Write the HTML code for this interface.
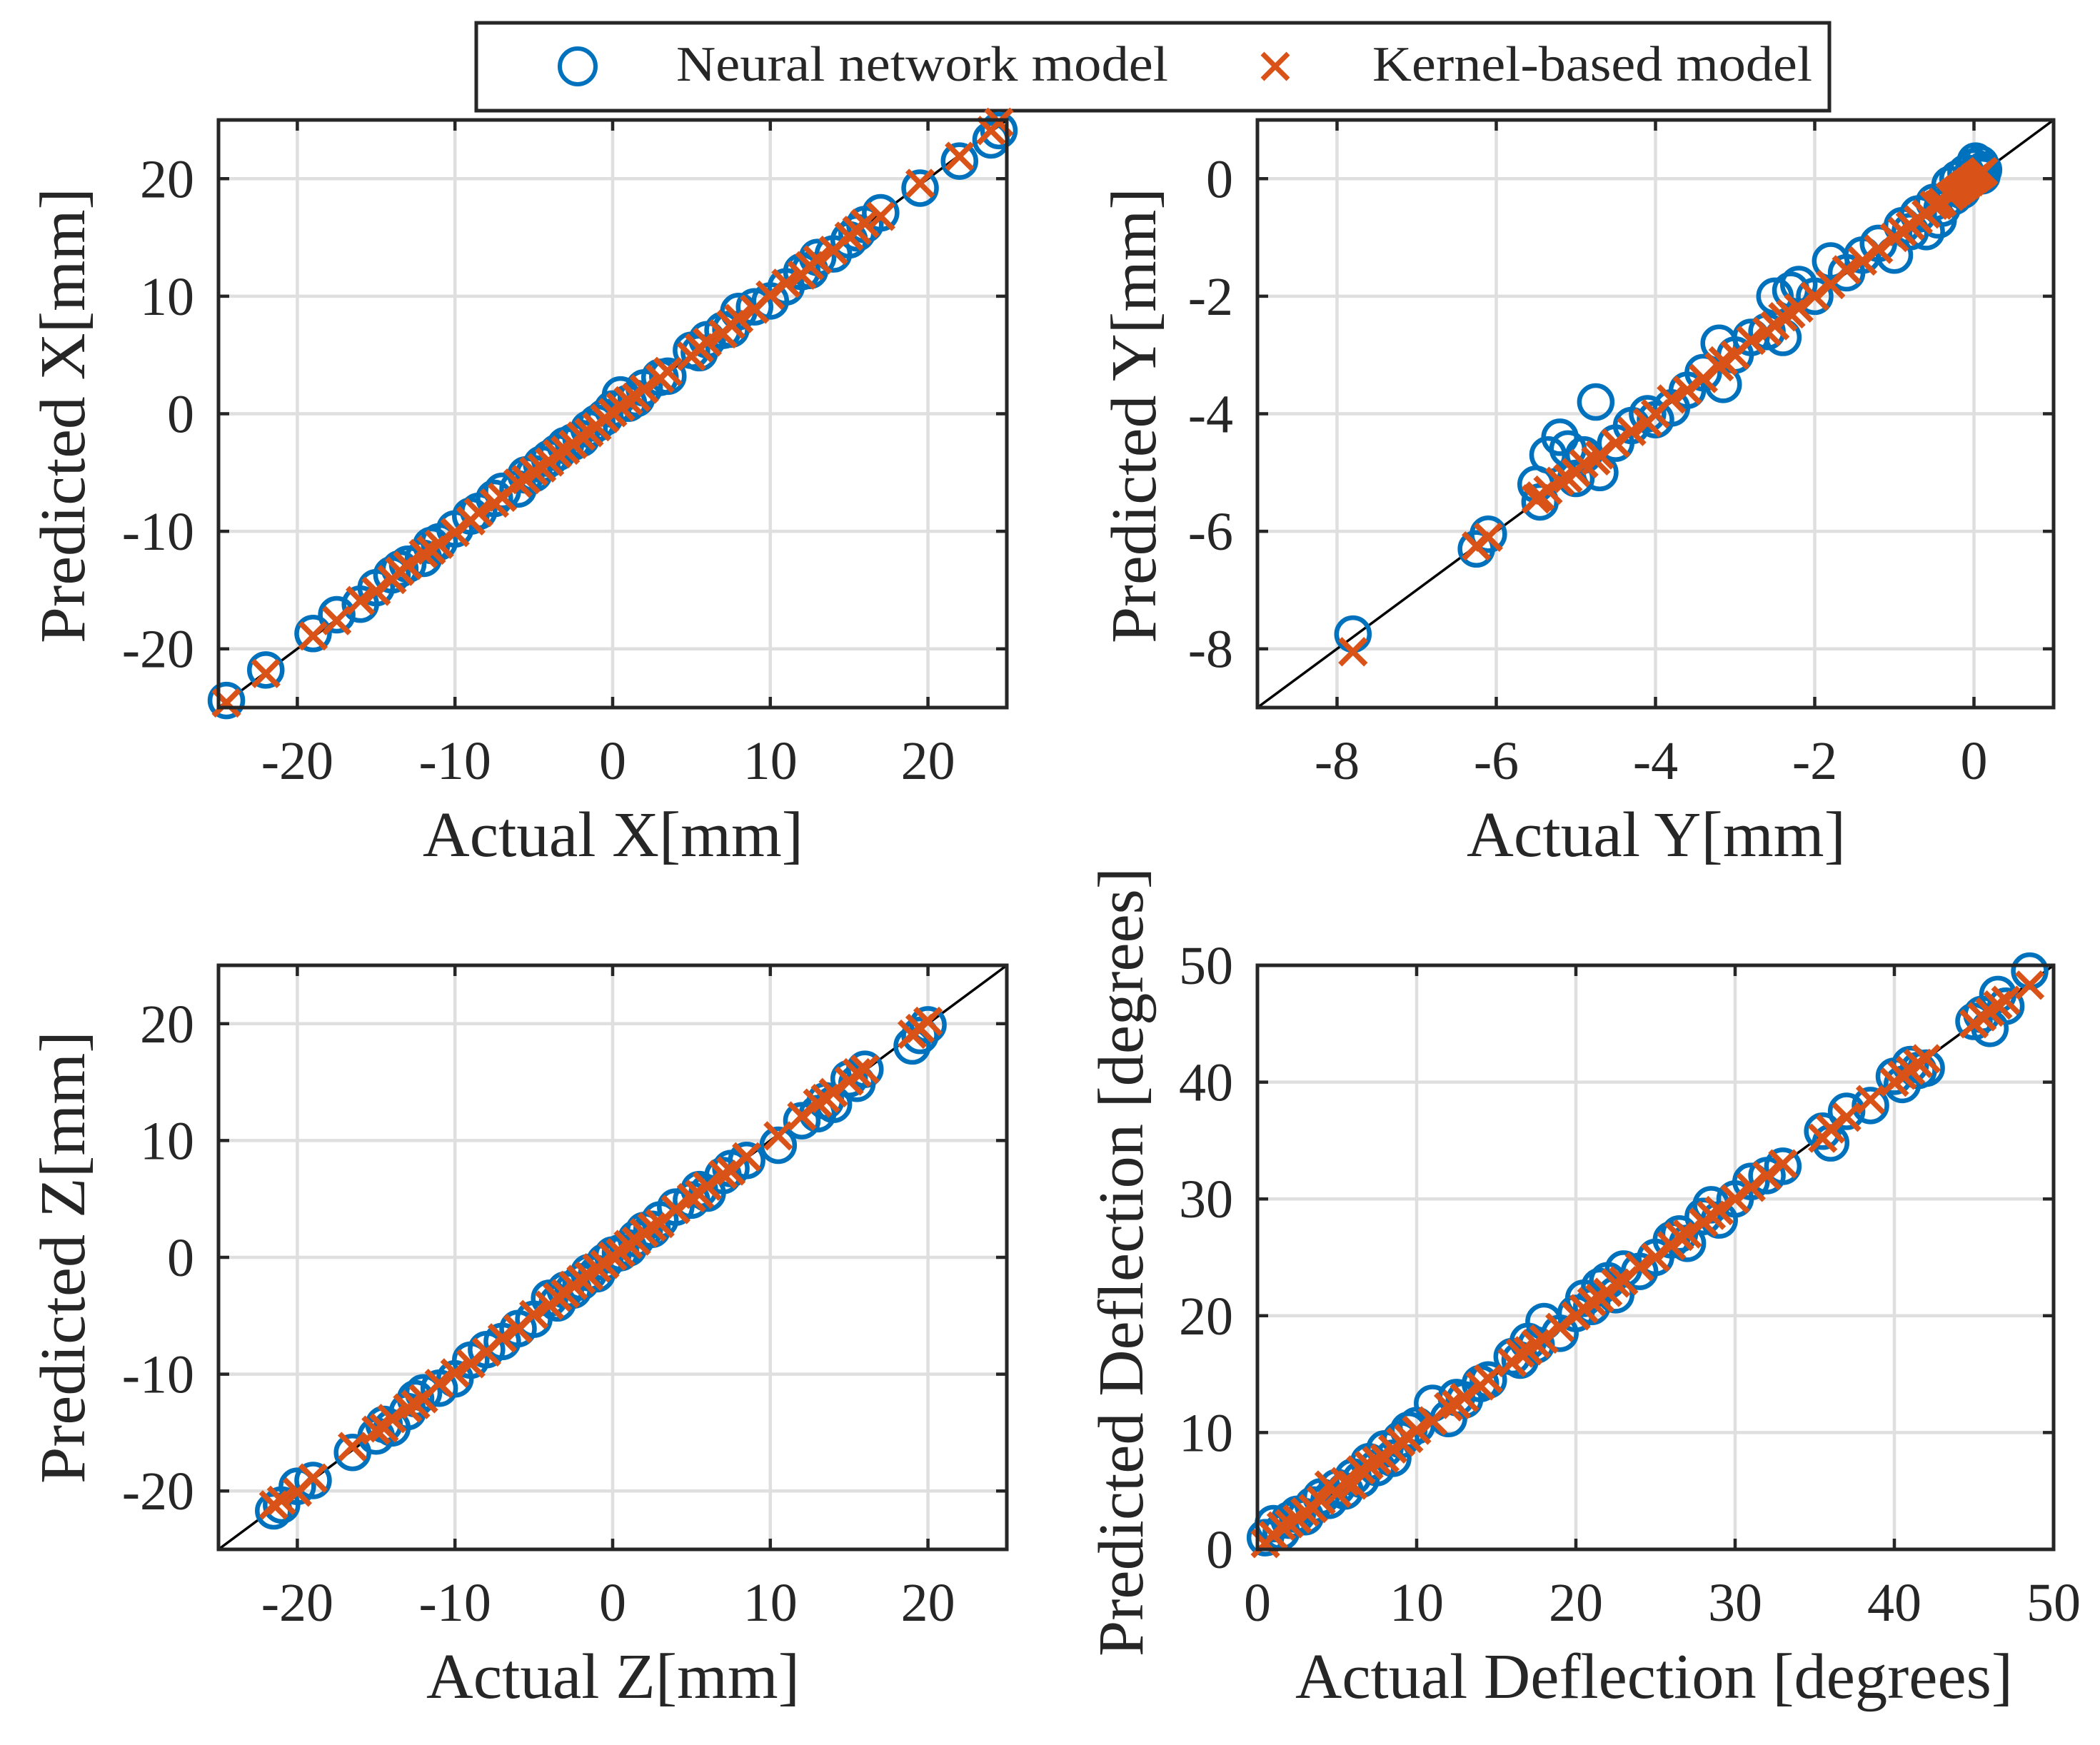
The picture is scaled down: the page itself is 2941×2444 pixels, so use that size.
<!DOCTYPE html>
<html><head><meta charset="utf-8"><style>
html,body{margin:0;padding:0;background:#fff}
svg{display:block}
text{font-family:"Liberation Serif",serif;fill:#262626}
</style></head><body>
<svg id="fig" width="2941" height="2444" viewBox="0 0 2941 2444" xmlns="http://www.w3.org/2000/svg">
<rect width="2941" height="2444" fill="#fff"/>
<g>
<rect x="667" y="32" width="1895" height="123" fill="#fff" stroke="#262626" stroke-width="5"/>
<circle cx="809" cy="93" r="25" fill="none" stroke="#0072BD" stroke-width="6"/>
<text x="947" y="113" font-size="70" textLength="689" lengthAdjust="spacingAndGlyphs">Neural network model</text>
<path d="M1768 75 L1804 111 M1804 75 L1768 111" stroke="#D95319" stroke-width="7"/>
<text x="1922" y="113" font-size="70" textLength="616" lengthAdjust="spacingAndGlyphs">Kernel-based model</text>
</g>
</svg>
<script>
// Panel X
const xActual=[-24.5,-22,-19,-17.5,-16,-15,-14,-13.5,-13,-12,-11.5,-11,-10,-9,-8.5,-7.5,-7,-6,-5.5,-5,-4.5,-4,-3.5,-3,-2.5,-2,-1.5,-1,-0.5,0,0.5,1,1.5,2,3,3.5,5,5.5,6,7,7.5,8,9,10,11,12,12.5,13,14,15,15.5,16,17,19.5,22,24,24.5];
const xNN=[-24.4,-21.8,-18.7,-17.1,-16.2,-14.8,-13.7,-13.2,-12.8,-12.3,-11.2,-10.9,-9.8,-8.7,-8.3,-7.2,-6.6,-6.4,-5.2,-5.1,-4.3,-3.8,-3.3,-2.7,-2.4,-2.1,-1.3,-0.8,-0.3,0.4,1.6,0.9,1.3,2.2,3.1,3.2,5.4,5.2,6.3,7.1,7.2,8.7,9.1,9.6,10.8,12.1,12.2,13.3,13.6,14.8,15.4,16.1,17.1,19.2,21.5,23.3,24.1];
const xKB=[-24.6,-22.1,-18.9,-17.6,-15.9,-15.1,-14.1,-13.4,-12.9,-11.9,-11.6,-11.1,-10.1,-9.1,-8.4,-7.6,-7.1,-5.9,-5.6,-4.9,-4.6,-4.1,-3.4,-3.1,-2.6,-1.9,-1.6,-1.1,-0.4,0.1,0.6,1.1,1.4,2.1,3.0,3.6,4.9,5.6,6.1,6.8,7.6,8.1,8.9,10.1,11.1,11.8,12.6,13.1,13.9,15.1,15.6,16.2,16.8,19.6,21.9,24.1,24.8];
// Panel Y
const yActual=[-7.8,-6.25,-6.1,-5.5,-5.45,-5.35,-5.2,-5.1,-5.0,-4.9,-4.75,-4.7,-4.5,-4.3,-4.1,-4.0,-3.8,-3.6,-3.4,-3.2,-3.15,-3.0,-2.8,-2.6,-2.5,-2.4,-2.3,-2.2,-2.0,-1.8,-1.6,-1.4,-1.2,-1.0,-0.9,-0.8,-0.7,-0.6,-0.5,-0.45,-0.4,-0.3,-0.25,-0.2,-0.15,-0.1,-0.05,0,0.02,0.05,0.08,0.1,0.12];
const yNN=[-7.75,-6.3,-6.05,-5.2,-5.5,-4.7,-4.4,-4.6,-5.1,-4.7,-3.8,-5.0,-4.5,-4.2,-4.0,-4.1,-3.9,-3.6,-3.3,-2.8,-3.5,-3.0,-2.7,-2.6,-2.0,-2.7,-1.9,-1.8,-2.0,-1.4,-1.6,-1.3,-1.1,-1.3,-0.8,-0.9,-0.6,-0.9,-0.4,-0.7,-0.5,-0.1,-0.3,0.0,-0.2,0.1,0.0,0.2,0.3,0.1,0.25,0.05,0.15];
const yKB=[-8.05,-6.25,-6.1,-5.45,-5.4,-5.3,-5.15,-5.1,-5.0,-4.85,-4.8,-4.7,-4.5,-4.3,-4.15,-4.0,-3.75,-3.6,-3.4,-3.2,-3.1,-3.0,-2.75,-2.6,-2.5,-2.35,-2.3,-2.2,-2.0,-1.8,-1.55,-1.4,-1.2,-1.0,-0.9,-0.8,-0.7,-0.6,-0.45,-0.45,-0.4,-0.3,-0.25,-0.2,-0.15,-0.1,-0.05,0,0.02,0.05,0.08,0.1,0.12];
// Panel Z
const zActual=[-21.5,-21,-20,-19,-16.5,-15,-14.5,-14,-13,-12.5,-12,-11,-10,-9,-8,-7,-6,-5,-4,-3.5,-3,-2.5,-2,-1.5,-1,-0.5,0,0.5,1,1.5,2,2.5,3,4,5,5.5,6,7,7.5,8.5,10.5,12,13,13.5,14,15,15.5,16,19,19.5,20];
const zNN=[-21.7,-21.2,-19.6,-19.1,-16.7,-15.3,-14.3,-14.6,-13.2,-12.1,-11.6,-11.2,-10.4,-8.8,-7.9,-7.2,-6.1,-5.3,-3.5,-3.9,-2.8,-2.8,-2.1,-1.3,-1.4,-0.4,0.2,0.4,0.8,1.6,2.3,2.4,3.2,4.3,4.9,5.8,5.5,7.0,7.6,8.3,9.6,11.7,12.3,13.4,13.1,15.3,14.9,16.1,18.1,19.0,19.9];
const zKB=[-21.2,-20.8,-20.1,-18.9,-16.2,-14.8,-14.6,-13.8,-12.9,-12.6,-12.1,-10.8,-9.9,-9.1,-8.1,-6.9,-6.1,-4.9,-4.1,-3.4,-3.1,-2.4,-1.9,-1.6,-0.9,-0.6,0.1,0.4,1.1,1.4,2.1,2.6,2.9,4.1,5.1,5.4,6.1,7.1,7.4,8.6,10.4,12.1,13.2,13.6,14.1,15.1,15.8,16.1,19.1,19.6,20.2];
// Panel Deflection
const dActual=[0.5,1,1.5,2,2.5,3,3.5,4,4.5,5,5.5,6,6.5,7,7.5,8,8.5,9,9.5,10,11,12,12.5,13,14,14.5,16,16.5,17,17.5,18,19,20,20.5,21,21.5,22,22.5,23,24,25,26,26.5,27,28,28.5,29,30,31,32,33,35.5,36,37,38.5,40,40.5,41,41.5,42,45,45.5,46,46.5,47,48.5];
const dNN=[1,2.2,1.5,2.5,3.0,2.8,3.8,4.5,4.2,5.3,5.0,6.2,6.0,7.5,7.0,8.6,7.8,9.4,10.2,10.6,12.5,11.2,13.0,12.8,14.2,14.5,16.5,16.2,17.8,17.5,19.5,18.5,20.2,21.5,20.8,22.5,23.0,21.8,24.0,23.8,25.0,26.5,27.0,26.2,28.5,29.5,28.2,30.0,31.5,32.0,32.8,35.8,34.8,37.5,38.0,40.5,39.8,41.5,41.0,41.2,45.2,45.8,44.6,47.5,46.5,49.5];
const dKB=[0.5,1.2,2,2.2,2.6,3.2,3.5,4.2,5.5,4.8,5.8,5.5,6.8,7.2,7.6,7.8,8.6,9.2,9.5,10.2,11.0,12.2,12.4,13.0,14.0,14.6,16.0,16.8,17.0,17.6,18.0,19.0,20.0,20.6,21.2,21.5,22.0,22.8,23.0,24.2,25.0,26.0,26.8,27.0,28.0,28.6,29.0,30.0,31.0,32.0,33.0,35.2,36.0,37.0,38.5,40.0,40.6,41.0,41.6,42.0,45.0,45.6,46.0,46.6,47.0,48.3];
const ticksXZ=[-20,-10,0,10,20];
const ticksY=[-8,-6,-4,-2,0];
const ticksD=[0,10,20,30,40,50];

const NS='http://www.w3.org/2000/svg';
const svg=document.getElementById('fig');
function mk(tag,attrs,parent){const e=document.createElementNS(NS,tag);for(const k in attrs)e.setAttribute(k,attrs[k]);(parent||svg).appendChild(e);return e;}

function panel(o){
  const g=mk('g',{});
  
  
  const L=o.x0,R=o.x1,T=o.y0,B=o.y1;
  const sx=v=>L+(v-o.min)/(o.max-o.min)*(R-L);
  const sy=v=>B-(v-o.min)/(o.max-o.min)*(B-T);
  o.ticks.forEach(t=>{
    const gv=mk('line',{x1:sx(t),x2:sx(t),y1:T,y2:B,stroke:'#dfdfdf','stroke-width':4.5},g);
    
    
    const gh=mk('line',{x1:L,x2:R,y1:sy(t),y2:sy(t),stroke:'#dfdfdf','stroke-width':4.5},g);
    
    
  });
  const d=mk('line',{x1:sx(o.min),y1:sy(o.min),x2:sx(o.max),y2:sy(o.max),stroke:'#000','stroke-width':3.5},g);
  
  
  o.act.forEach((a,i)=>{
    const c=mk('circle',{cx:sx(a),cy:sy(o.nn[i]),r:23,fill:'none',stroke:'#0072BD','stroke-width':6.5},g);
    
    
  });
  o.act.forEach((a,i)=>{
    const x=sx(a),y=sy(o.kb[i]),h=18;
    const p=mk('path',{d:`M${x-h} ${y-h}L${x+h} ${y+h}M${x+h} ${y-h}L${x-h} ${y+h}`,stroke:'#D95319','stroke-width':7.5},g);
    
    
  });
  o.ticks.forEach(t=>{
    mk('path',{d:`M${sx(t)} ${B}v-15M${sx(t)} ${T}v15M${L} ${sy(t)}h15M${R} ${sy(t)}h-15`,stroke:'#262626','stroke-width':4.5},g);
    const tx=mk('text',{x:sx(t),y:B+100,'font-size':76,'text-anchor':'middle'},g);
    tx.textContent=String(t);
    
    
    const ty=mk('text',{x:L-34,y:sy(t)+26,'font-size':76,'text-anchor':'end'},g);
    ty.textContent=String(t);
    
    
  });
  const box=mk('rect',{x:L,y:T,width:R-L,height:B-T,fill:'none',stroke:'#262626','stroke-width':5},g);
  
  
  const xl=mk('text',{x:(o.xl0+o.xl1)/2,y:B+208,'font-size':90,'text-anchor':'middle',textLength:o.xl1-o.xl0,lengthAdjust:'spacingAndGlyphs'},g);
  xl.textContent=o.xlabel;
  
  
  const yc=(o.yl0+o.yl1)/2;
  const yl=mk('text',{x:0,y:0,'font-size':90,'text-anchor':'middle',textLength:o.yl1-o.yl0,lengthAdjust:'spacingAndGlyphs',transform:`translate(${o.ylx},${yc}) rotate(-90)`},g);
  yl.textContent=o.ylabel;
  
  
}
panel({name:'panel-x',x0:306,x1:1410,y0:168,y1:991,min:-25,max:25,ticks:ticksXZ,act:xActual,nn:xNN,kb:xKB,xlabel:'Actual X[mm]',ylabel:'Predicted X[mm]',xl0:592,xl1:1125,yl0:263,yl1:901,ylx:118});
panel({name:'panel-y',x0:1761,x1:2876,y0:168,y1:991,min:-9,max:1,ticks:ticksY,act:yActual,nn:yNN,kb:yKB,xlabel:'Actual Y[mm]',ylabel:'Predicted Y[mm]',xl0:2054,xl1:2585,yl0:263,yl1:901,ylx:1618});
panel({name:'panel-z',x0:306,x1:1410,y0:1352,y1:2170,min:-25,max:25,ticks:ticksXZ,act:zActual,nn:zNN,kb:zKB,xlabel:'Actual Z[mm]',ylabel:'Predicted Z[mm]',xl0:597,xl1:1120,yl0:1444,yl1:2078,ylx:118});
panel({name:'panel-deflection',x0:1761,x1:2876,y0:1352,y1:2170,min:0,max:50,ticks:ticksD,act:dActual,nn:dNN,kb:dKB,xlabel:'Actual Deflection [degrees]',ylabel:'Predicted Deflection [degrees]',xl0:1814,xl1:2819,yl0:1215,yl1:2320,ylx:1600});
</script>
</body></html>
